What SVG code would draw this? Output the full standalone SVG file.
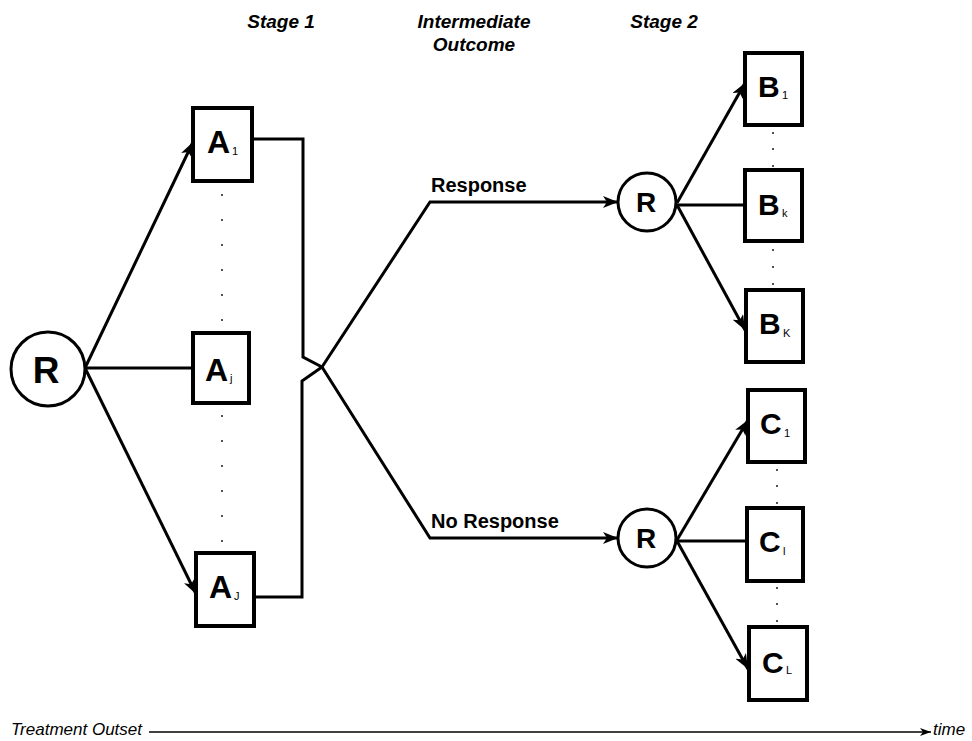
<svg xmlns="http://www.w3.org/2000/svg" width="972" height="741" viewBox="0 0 972 741">
<style>
.box{fill:#fff;stroke:#000;stroke-width:4}
.circ{fill:#fff;stroke:#000;stroke-width:3}
.ln{fill:none;stroke:#000;stroke-width:3}
.arr{fill:none;stroke:#000;stroke-width:3;marker-end:url(#ah)}
.big{font-family:"Liberation Sans",Arial,sans-serif;font-weight:bold;fill:#000}
.sub{font-family:"Liberation Sans",Arial,sans-serif;font-size:11px;fill:#000}
.hdr{font-family:"Liberation Sans",Arial,sans-serif;font-weight:bold;font-style:italic;font-size:19px;text-anchor:middle;fill:#000}
.lbl{font-family:"Liberation Sans",Arial,sans-serif;font-weight:bold;font-size:20px;fill:#000}
.ital{font-family:"Liberation Sans",Arial,sans-serif;font-style:italic;font-size:17px;fill:#000}
.dot{fill:#000}
</style>
<defs>
<marker id="ah" markerUnits="userSpaceOnUse" markerWidth="16" markerHeight="12" refX="15" refY="6" orient="auto">
<path d="M0,0 L15,6 L0,12 L4,6 Z" fill="#000"/>
</marker>
<marker id="ahs" markerUnits="userSpaceOnUse" markerWidth="12" markerHeight="10" refX="11" refY="4" orient="auto">
<path d="M0,0 L11,4 L0,8 L3,4 Z" fill="#000"/>
</marker>
</defs>

<g id="headers">
<text class="hdr" x="281" y="28">Stage 1</text>
<text class="hdr" x="474" y="28">Intermediate</text>
<text class="hdr" x="474" y="51">Outcome</text>
<text class="hdr" x="664" y="28">Stage 2</text>
</g>

<g id="connectors">
<line class="arr" x1="85" y1="368" x2="193" y2="142"/>
<line class="ln" x1="85" y1="368" x2="193" y2="368"/>
<line class="arr" x1="85" y1="368" x2="196" y2="594"/>
<polyline class="ln" points="252,139 303,139 303,357 322,367"/>
<polyline class="ln" points="254,597 302,597 302,381 322,367"/>
<polyline class="arr" points="322,367 430,202 618,202"/>
<polyline class="arr" points="322,367 430,538 618,538"/>
<line class="arr" x1="677" y1="203" x2="745" y2="83"/>
<line class="ln" x1="677" y1="205" x2="745" y2="205"/>
<line class="arr" x1="677" y1="205" x2="745" y2="330"/>
<line class="arr" x1="677" y1="540" x2="748" y2="420"/>
<line class="ln" x1="677" y1="541" x2="747" y2="541"/>
<line class="arr" x1="677" y1="541" x2="748" y2="669"/>
</g>

<g id="labels">
<text class="lbl" x="431" y="192">Response</text>
<text class="lbl" x="431" y="528">No Response</text>
</g>

<g id="node-R0">
<circle class="circ" cx="48" cy="369" r="37"/>
<text class="big" x="46" y="383" font-size="37" text-anchor="middle">R</text>
</g>

<g id="node-A1">
<rect class="box" x="193" y="108" width="59" height="73"/>
<text class="big" x="207" y="153" font-size="32">A</text>
<text class="sub" x="232" y="155">1</text>
</g>
<g id="node-Aj">
<rect class="box" x="193" y="333" width="56" height="70"/>
<text class="big" x="205" y="381" font-size="32">A</text>
<text class="sub" x="230" y="382">j</text>
</g>
<g id="node-AJ">
<rect class="box" x="196" y="553" width="58" height="73"/>
<text class="big" x="209" y="598" font-size="32">A</text>
<text class="sub" x="234" y="600">J</text>
</g>

<g id="node-R1">
<circle class="circ" cx="647" cy="202" r="29"/>
<text class="big" x="646" y="212" font-size="28" text-anchor="middle">R</text>
</g>
<g id="node-R2">
<circle class="circ" cx="647" cy="538" r="29"/>
<text class="big" x="646" y="548" font-size="28" text-anchor="middle">R</text>
</g>

<g id="node-B1">
<rect class="box" x="745" y="53" width="57" height="72"/>
<text class="big" x="758" y="97" font-size="30">B</text>
<text class="sub" x="782" y="99">1</text>
</g>
<g id="node-Bk">
<rect class="box" x="745" y="170" width="57" height="71"/>
<text class="big" x="758" y="215" font-size="30">B</text>
<text class="sub" x="782" y="217">k</text>
</g>
<g id="node-BK">
<rect class="box" x="746" y="290" width="57" height="72"/>
<text class="big" x="759" y="334" font-size="30">B</text>
<text class="sub" x="783" y="337">K</text>
</g>

<g id="node-C1">
<rect class="box" x="748" y="390" width="57" height="72"/>
<text class="big" x="760" y="434" font-size="30">C</text>
<text class="sub" x="784" y="437">1</text>
</g>
<g id="node-Cl">
<rect class="box" x="747" y="508" width="56" height="73"/>
<text class="big" x="759" y="552" font-size="30">C</text>
<text class="sub" x="783" y="555">l</text>
</g>
<g id="node-CL">
<rect class="box" x="749" y="627" width="58" height="73"/>
<text class="big" x="762" y="673" font-size="30">C</text>
<text class="sub" x="786" y="674">L</text>
</g>

<g id="dots">
<circle class="dot" cx="222" cy="195" r="0.9"/>
<circle class="dot" cx="222" cy="220" r="0.9"/>
<circle class="dot" cx="222" cy="245" r="0.9"/>
<circle class="dot" cx="222" cy="270" r="0.9"/>
<circle class="dot" cx="222" cy="295" r="0.9"/>
<circle class="dot" cx="222" cy="320" r="0.9"/>
<circle class="dot" cx="222" cy="416" r="0.9"/>
<circle class="dot" cx="222" cy="441" r="0.9"/>
<circle class="dot" cx="222" cy="466" r="0.9"/>
<circle class="dot" cx="222" cy="491" r="0.9"/>
<circle class="dot" cx="222" cy="516" r="0.9"/>
<circle class="dot" cx="222" cy="541" r="0.9"/>
<circle class="dot" cx="773" cy="133" r="0.9"/>
<circle class="dot" cx="773" cy="149" r="0.9"/>
<circle class="dot" cx="773" cy="166" r="0.9"/>
<circle class="dot" cx="773" cy="250" r="0.9"/>
<circle class="dot" cx="773" cy="267" r="0.9"/>
<circle class="dot" cx="773" cy="284" r="0.9"/>
<circle class="dot" cx="777" cy="470" r="0.9"/>
<circle class="dot" cx="777" cy="486" r="0.9"/>
<circle class="dot" cx="777" cy="503" r="0.9"/>
<circle class="dot" cx="777" cy="588" r="0.9"/>
<circle class="dot" cx="777" cy="604" r="0.9"/>
<circle class="dot" cx="777" cy="621" r="0.9"/>
</g>

<g id="timeline">
<text class="ital" x="11" y="735">Treatment Outset</text>
<line x1="149" y1="732" x2="931" y2="732" stroke="#000" stroke-width="1.5" marker-end="url(#ahs)"/>
<text class="ital" x="933" y="735">time</text>
</g>
</svg>
